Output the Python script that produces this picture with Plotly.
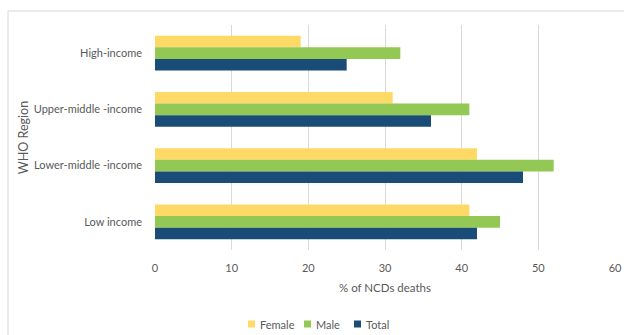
import plotly.graph_objects as go

regions = ["High-income", "Upper-middle -income", "Lower-middle -income", "Low income"]
female = [19, 31, 42, 41]
male = [32, 41, 52, 45]
total = [25, 36, 48, 42]
x_ticks = [0, 10, 20, 30, 40, 50, 60]

series = [
    ("Female", female, "#FFD966"),
    ("Male", male, "#92C853"),
    ("Total", total, "#1A4C78"),
]

text_color = "#595959"
family = "Lato, Open Sans, sans-serif"

# plot area in pixels: left 155, right 615, top 25, bottom 250
L, R, T, B = 155, 615, 25, 250
W, H = R - L, B - T


def px(x):
    return (x - L) / W


def py(y):
    return (B - y) / H


fig = go.Figure()
for name, vals, color in series:
    fig.add_trace(go.Bar(
        y=regions, x=vals, name=name, orientation="h",
        marker=dict(color=color, line=dict(width=0)),
        showlegend=False,
    ))

# outer chart frame
shapes = [dict(
    type="rect", xref="paper", yref="paper",
    x0=px(8), x1=px(640), y0=py(350), y1=py(11),
    line=dict(color="#D9D9D9", width=1), fillcolor="rgba(0,0,0,0)",
    layer="below",
)]
annotations = []

# legend: colour swatch followed by series name
legend_x = [248, 304, 354]
legend_y = 324
for (name, _, color), lx in zip(series, legend_x):
    shapes.append(dict(
        type="rect", xref="paper", yref="paper",
        x0=px(lx), x1=px(lx + 7), y0=py(legend_y + 3.5), y1=py(legend_y - 3.5),
        line=dict(width=0), fillcolor=color,
    ))
    annotations.append(dict(
        text=name, xref="paper", yref="paper", x=px(lx + 10), y=py(legend_y),
        xanchor="left", yanchor="middle", showarrow=False,
        font=dict(family=family, size=11, color=text_color),
    ))

fig.update_layout(
    width=624, height=335,
    margin=dict(l=L, r=624 - R, t=T, b=335 - B),
    paper_bgcolor="white", plot_bgcolor="white",
    barmode="group", bargap=0.38, bargroupgap=0,
    font=dict(family=family, size=11, color=text_color),
    showlegend=False,
    xaxis=dict(
        range=[0, 60], tickvals=x_ticks, showgrid=True, gridcolor="#D9D9D9",
        gridwidth=1, zeroline=False, showline=False, ticks="",
        automargin=False, ticklabelstandoff=10,
        tickfont=dict(size=11, color=text_color),
        title=dict(text="% of NCDs deaths", standoff=10,
                   font=dict(size=11.5, color=text_color)),
    ),
    yaxis=dict(
        autorange="reversed", showgrid=False, zeroline=False, showline=False,
        ticks="", ticklabelstandoff=12, automargin=False,
        tickfont=dict(size=11, color=text_color),
        title=dict(text="WHO Region", standoff=2,
                   font=dict(size=12.5, color=text_color)),
    ),
    shapes=shapes,
    annotations=annotations,
)

fig.write_html("out.html")
